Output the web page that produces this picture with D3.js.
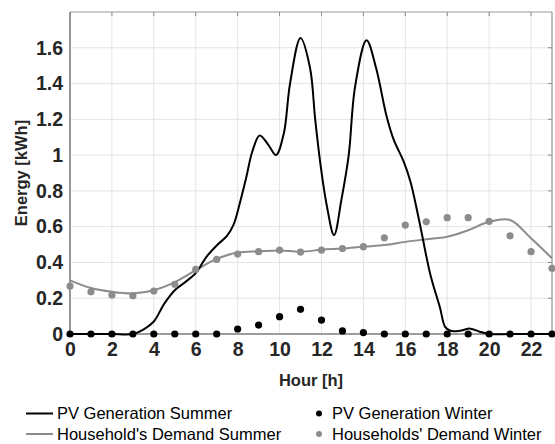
<!DOCTYPE html>
<html>
<head>
<meta charset="utf-8">
<script src="https://cdn.jsdelivr.net/npm/d3@7"></script>
<style>
  body { margin: 0; background: #fff; }
  svg text { font-family: "Liberation Sans", Arial, sans-serif; }
</style>
</head>
<body>
<div class="viz"></div>
<script>
// hourly points (summer pv curve read at finer steps so the peaks sit right)
var pvSummerHour = [0, 1, 2, 3, 3.5, 4, 4.5, 5, 5.5, 6, 6.5, 7, 7.5, 7.8, 8.1, 8.4, 8.7, 9.05, 9.45, 9.83, 10.2, 10.5, 11.0, 11.45, 11.7, 11.95, 12.25, 12.6, 12.95, 13.3, 13.6, 14.15, 14.6, 15.1, 15.45, 15.9, 16.25, 16.65, 17.2, 17.65, 17.9, 18.15, 18.6, 19.1, 19.55, 20, 21, 22, 23]
var pvSummer = [0, 0, 0, 0, 0.025, 0.07, 0.17, 0.245, 0.29, 0.34, 0.43, 0.495, 0.55, 0.61, 0.73, 0.87, 1.02, 1.11, 1.06, 1.0, 1.12, 1.40, 1.655, 1.49, 1.2, 0.95, 0.72, 0.553, 0.75, 1.0, 1.38, 1.642, 1.49, 1.22, 1.085, 0.97, 0.85, 0.64, 0.33, 0.15, 0.04, 0.018, 0.018, 0.03, 0.013, 0, 0, 0, 0]

var hours = d3.range(0, 24)
var demandSummer = [0.30, 0.257, 0.236, 0.227, 0.245, 0.29, 0.357, 0.42, 0.455, 0.462, 0.467, 0.46, 0.471, 0.478, 0.488, 0.497, 0.515, 0.53, 0.544, 0.58, 0.627, 0.637, 0.535, 0.423]
var pvWinter = [0, 0, 0, 0, 0, 0, 0, 0, 0.028, 0.05, 0.097, 0.138, 0.078, 0.017, 0.008, 0, 0, 0, 0, 0, 0, 0, 0, 0]
var demandWinter = [0.268, 0.236, 0.218, 0.214, 0.24, 0.278, 0.361, 0.417, 0.447, 0.46, 0.469, 0.458, 0.469, 0.478, 0.488, 0.538, 0.609, 0.627, 0.65, 0.65, 0.63, 0.549, 0.46, 0.367]

var xTicks = d3.range(0, 23, 2)
var yTicks = [0, 0.2, 0.4, 0.6, 0.8, 1, 1.2, 1.4, 1.6]

var legendItems = [
  {label: "PV Generation Summer", kind: "line", color: "#000"},
  {label: "PV Generation Winter", kind: "dot", color: "#000"},
  {label: "Household's Demand Summer", kind: "line", color: "#8c8c8c"},
  {label: "Households' Demand Winter", kind: "dot", color: "#8c8c8c"}
]

var width = 555, height = 444
var margin = {top: 12, right: 3, bottom: 110, left: 70}
var w = width - margin.left - margin.right,
    h = height - margin.top - margin.bottom

var svg = d3.select(".viz").append("svg")
  .attr("width", width)
  .attr("height", height)

var g = svg.append("g")
  .attr("transform", "translate(" + margin.left + "," + margin.top + ")")

var x = d3.scaleLinear().domain([0, 23]).range([0, w])
var y = d3.scaleLinear().domain([0, 1.8]).range([h, 0])

// grid
g.append("g").selectAll("line")
  .data(xTicks.concat([23]))
  .enter().append("line")
  .attr("x1", function(d){ return x(d) })
  .attr("x2", function(d){ return x(d) })
  .attr("y1", 0).attr("y2", h)
  .attr("stroke", "#e4e4e4")

g.append("g").selectAll("line")
  .data(yTicks)
  .enter().append("line")
  .attr("y1", function(d){ return y(d) })
  .attr("y2", function(d){ return y(d) })
  .attr("x1", 0).attr("x2", w)
  .attr("stroke", "#e4e4e4")

// axes
var xAxis = g.append("g")
  .attr("transform", "translate(0," + h + ")")
  .call(d3.axisBottom(x).tickValues(xTicks).tickSize(0).tickPadding(8).tickFormat(d3.format("d")))
xAxis.select(".domain").remove()
xAxis.selectAll("text")
  .attr("font-size", "19.5px").attr("font-weight", "bold").attr("fill", "#262626")
  .attr("dy", "0.71em")

var yAxis = g.append("g")
  .call(d3.axisLeft(y).tickValues(yTicks).tickSize(0).tickPadding(7).tickFormat(function(d){ return d === 0 || d === 1 ? d3.format("d")(d) : d3.format(".1f")(d) }))
yAxis.select(".domain").remove()
yAxis.selectAll("text")
  .attr("font-size", "19.5px").attr("font-weight", "bold").attr("fill", "#262626")

// small inward ticks on top and right edge
g.append("g").selectAll("line")
  .data(xTicks.slice(1))
  .enter().append("line")
  .attr("x1", function(d){ return x(d) })
  .attr("x2", function(d){ return x(d) })
  .attr("y1", 0).attr("y2", 4)
  .attr("stroke", "#8a8a8a")

g.append("g").selectAll("line")
  .data(yTicks.slice(1))
  .enter().append("line")
  .attr("y1", function(d){ return y(d) })
  .attr("y2", function(d){ return y(d) })
  .attr("x1", w - 4).attr("x2", w)
  .attr("stroke", "#8a8a8a")

// box
g.append("line").attr("x1", 0).attr("x2", w).attr("y1", 0).attr("y2", 0)
  .attr("stroke", "#9a9a9a").attr("stroke-width", 1.2)
g.append("line").attr("x1", w).attr("x2", w).attr("y1", 0).attr("y2", h)
  .attr("stroke", "#9a9a9a").attr("stroke-width", 1.2)
g.append("line").attr("x1", 0).attr("x2", 0).attr("y1", 0).attr("y2", h)
  .attr("stroke", "#808080").attr("stroke-width", 1.6)
g.append("line").attr("x1", 0).attr("x2", w).attr("y1", h).attr("y2", h)
  .attr("stroke", "#808080").attr("stroke-width", 1.6)

// curves
var line = d3.line()
  .x(function(d){ return x(d[0]) })
  .y(function(d){ return y(d[1]) })
  .curve(d3.curveCatmullRom.alpha(0.5))

g.append("path")
  .datum(hours.map(function(d, i){ return [d, demandSummer[i]] }))
  .attr("d", line)
  .attr("fill", "none")
  .attr("stroke", "#8c8c8c")
  .attr("stroke-width", 2)

g.append("path")
  .datum(pvSummerHour.map(function(d, i){ return [d, pvSummer[i]] }))
  .attr("d", line)
  .attr("fill", "none")
  .attr("stroke", "#000")
  .attr("stroke-width", 2)

// winter dots
g.append("g").selectAll("circle")
  .data(demandWinter)
  .enter().append("circle")
  .attr("cx", function(d, i){ return x(hours[i]) })
  .attr("cy", function(d){ return y(d) })
  .attr("r", 3.6)
  .attr("fill", "#8c8c8c")

g.append("g").selectAll("circle")
  .data(pvWinter)
  .enter().append("circle")
  .attr("cx", function(d, i){ return x(hours[i]) })
  .attr("cy", function(d){ return y(d) })
  .attr("r", 3.6)
  .attr("fill", "#000")

// axis titles
svg.append("text")
  .attr("x", margin.left + w / 2)
  .attr("y", 386)
  .attr("text-anchor", "middle")
  .attr("font-size", "16.5px").attr("font-weight", "bold").attr("fill", "#262626")
  .text("Hour [h]")

svg.append("text")
  .attr("transform", "translate(27," + (margin.top + h / 2) + ") rotate(-90)")
  .attr("text-anchor", "middle")
  .attr("font-size", "16.5px").attr("font-weight", "bold").attr("fill", "#262626")
  .text("Energy [kWh]")

// legend, two columns
var legend = svg.append("g").selectAll("g")
  .data(legendItems)
  .enter().append("g")
  .attr("transform", function(d, i){
    var col = i % 2, row = Math.floor(i / 2)
    return "translate(" + (col ? 293 : 26) + "," + (413.5 + row * 20.5) + ")"
  })

legend.filter(function(d){ return d.kind === "line" })
  .append("line")
  .attr("x1", 0).attr("x2", 27)
  .attr("stroke", function(d){ return d.color })
  .attr("stroke-width", 2)

legend.filter(function(d){ return d.kind === "dot" })
  .append("circle")
  .attr("cx", 26).attr("r", 3)
  .attr("fill", function(d){ return d.color })

legend.append("text")
  .attr("x", function(d){ return d.kind === "line" ? 31 : 39 })
  .attr("dy", "0.36em")
  .attr("font-size", "16.5px")
  .attr("fill", "#000")
  .text(function(d){ return d.label })
</script>
</body>
</html>
